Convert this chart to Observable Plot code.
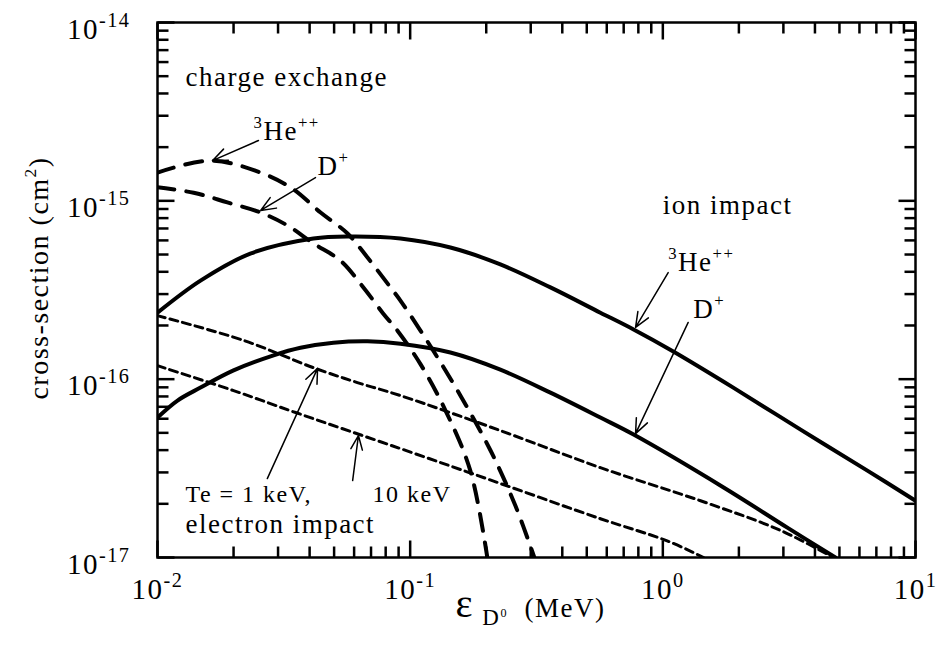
<!DOCTYPE html>
<html>
<head>
<meta charset="utf-8">
<script src="https://cdn.jsdelivr.net/npm/d3@7"></script>
<script src="https://cdn.jsdelivr.net/npm/@observablehq/plot@0.6"></script>
<style>
  html, body { margin: 0; padding: 0; background: #fff; }
  #chart svg { display: block; }
</style>
</head>
<body>
<div id="chart"></div>
<script>
// Neutral deuterium energy (MeV) and cross-sections (cm^2)

// charge exchange with 3He++
const cxHeEnergy = [0.01, 0.0162, 0.0256, 0.0342, 0.0442, 0.0565, 0.0678, 0.0836, 0.0915, 0.120, 0.158, 0.208, 0.261, 0.310];
const cxHeSigma  = [1.44e-15, 1.68e-15, 1.44e-15, 1.17e-15, 8.6e-16, 6.56e-16, 4.81e-16, 3.27e-16, 2.76e-16, 1.54e-16, 8.1e-17, 3.98e-17, 1.95e-17, 1.0e-17];

// charge exchange with D+
const cxDEnergy = [0.01, 0.0139, 0.0189, 0.0256, 0.0327, 0.0414, 0.053, 0.0653, 0.0783, 0.0891, 0.110, 0.138, 0.173, 0.202];
const cxDSigma  = [1.19e-15, 1.11e-15, 9.8e-16, 8.6e-16, 7.27e-16, 5.77e-16, 4.62e-16, 3.27e-16, 2.33e-16, 1.87e-16, 1.21e-16, 6.67e-17, 3.07e-17, 1.0e-17];

// ion impact ionization by 3He++
const ionHeEnergy = [0.01, 0.0148, 0.0233, 0.0414, 0.0581, 0.0915, 0.1443, 0.2275, 0.359, 0.566, 0.766, 1.10, 1.90, 3.51, 6.45, 10];
const ionHeSigma  = [2.36e-16, 3.57e-16, 5.06e-16, 6.15e-16, 6.31e-16, 6.15e-16, 5.47e-16, 4.40e-16, 3.27e-16, 2.36e-16, 1.90e-16, 1.43e-16, 8.97e-17, 5.21e-17, 3.07e-17, 2.08e-17];

// ion impact ionization by D+
const ionDEnergy = [0.01, 0.012, 0.0148, 0.0200, 0.0288, 0.0368, 0.0497, 0.0678, 0.0915, 0.1443, 0.2275, 0.359, 0.566, 0.766, 1.74, 3.11, 4.82];
const ionDSigma  = [6.09e-17, 7.59e-17, 8.97e-17, 1.12e-16, 1.36e-16, 1.50e-16, 1.60e-16, 1.63e-16, 1.58e-16, 1.41e-16, 1.13e-16, 8.4e-17, 6.09e-17, 4.89e-17, 2.47e-17, 1.47e-17, 1.0e-17];

// electron impact ionization, Te = 1 keV
const e1Energy = [0.01, 0.0219, 0.0414, 0.0618, 0.0915, 0.2275, 0.566, 1.41, 2.92, 4.73];
const e1Sigma  = [2.27e-16, 1.65e-16, 1.16e-16, 9.57e-17, 8.09e-17, 5.15e-17, 3.19e-17, 2.08e-17, 1.42e-17, 1.0e-17];

// electron impact ionization, Te = 10 keV
const e10Energy = [0.01, 0.0200, 0.0352, 0.0915, 0.2275, 0.566, 1.04, 1.45];
const e10Sigma  = [1.19e-16, 8.63e-17, 6.50e-17, 4.08e-17, 2.60e-17, 1.65e-17, 1.24e-17, 1.0e-17];

// axis ticks
const majorX = [0.01, 0.1, 1, 10];
const majorY = [1e-17, 1e-16, 1e-15, 1e-14];
const minorX = [0.02, 0.03, 0.04, 0.05, 0.06, 0.07, 0.08, 0.09,
                0.2, 0.3, 0.4, 0.5, 0.6, 0.7, 0.8, 0.9,
                2, 3, 4, 5, 6, 7, 8, 9];
const minorY = [2e-17, 3e-17, 4e-17, 5e-17, 6e-17, 7e-17, 8e-17, 9e-17,
                2e-16, 3e-16, 4e-16, 5e-16, 6e-16, 7e-16, 8e-16, 9e-16,
                2e-15, 3e-15, 4e-15, 5e-15, 6e-15, 7e-15, 8e-15, 9e-15];

// text labels; [text|scale|shift] marks a super/subscript run
const noteLabels = ["charge exchange", "[3|0.62|0.45]He[++|0.62|0.45]", "D[+|0.62|0.45]", "ion impact",
                    "[3|0.62|0.45]He[++|0.62|0.45]", "D[+|0.62|0.45]", "electron impact"];
const noteEnergy = [0.0129, 0.0240, 0.0430, 1.0, 1.05, 1.32, 0.0129];
const noteSigma  = [4.43e-15, 2.18e-15, 1.39e-15, 8.49e-16, 4.06e-16, 2.19e-16, 1.38e-17];

const teLabels = ["Te = 1 keV,", "10 keV"];
const teEnergy = [0.0129, 0.0710];
const teSigma  = [2.06e-17, 2.06e-17];

// pointer arrows: tail (E1, s1) -> head (E2, s2)
const arrowE1 = [0.0251, 0.0422, 1.05, 1.26, 0.0272, 0.0592];
const arrowS1 = [2.18e-15, 1.35e-15, 3.96e-16, 2.08e-16, 2.77e-17, 2.70e-17];
const arrowE2 = [0.0165, 0.0256, 0.780, 0.780, 0.0430, 0.0624];
const arrowS2 = [1.68e-15, 8.83e-16, 1.95e-16, 4.95e-17, 1.15e-16, 4.83e-17];

const xTitle = "[ε|1.5|0] [D|0.85|-0.33][0|0.45|0]\u00a0 (MeV)";
const yTitle = "cross-section (cm[2|0.62|0.45])";

const series = (E, S) => E.map((e, i) => ({E: e, s: S[i]}));
const notes = noteLabels.map((t, i) => ({t, E: noteEnergy[i], s: noteSigma[i]}));
const teNotes = teLabels.map((t, i) => ({t, E: teEnergy[i], s: teSigma[i]}));
const arrows = arrowE1.map((e, i) => ({E1: e, s1: arrowS1[i], E2: arrowE2[i], s2: arrowS2[i]}));

const expFmt = d => `10[${Math.round(Math.log10(d))}|0.7|0.42]`;

const W = 939, H = 651;
const M = {left: 157, right: 24, top: 22, bottom: 94};
const xDomain = [0.01, 10], yDomain = [1e-17, 1e-14];
// pixels per decade on each log axis
const xDecade = (W - M.left - M.right) / Math.log10(xDomain[1] / xDomain[0]);
const yDecade = (H - M.top - M.bottom) / Math.log10(yDomain[1] / yDomain[0]);

const solid = {x: "E", y: "s", stroke: "black", strokeWidth: 4, curve: "catmull-rom", clip: true};
const longDash = {...solid, strokeDasharray: "17,12"};
const shortDash = {...solid, strokeWidth: 3, strokeDasharray: "8,5"};

// inward ticks as short links; a tick of len px spans len/decade of a decade
const tickStyle = {stroke: "black", strokeWidth: 2.5};
const xTicks = (v, len) => {
  const f = Math.pow(10, len / yDecade);
  return [
    Plot.link(v, {x1: d => d, x2: d => d, y1: () => yDomain[0], y2: () => yDomain[0] * f, ...tickStyle}),
    Plot.link(v, {x1: d => d, x2: d => d, y1: () => yDomain[1], y2: () => yDomain[1] / f, ...tickStyle})
  ];
};
const yTicks = (v, len) => {
  const f = Math.pow(10, len / xDecade);
  return [
    Plot.link(v, {y1: d => d, y2: d => d, x1: () => xDomain[0], x2: () => xDomain[0] * f, ...tickStyle}),
    Plot.link(v, {y1: d => d, y2: d => d, x1: () => xDomain[1], x2: () => xDomain[1] / f, ...tickStyle})
  ];
};

const chart = Plot.plot({
  width: W,
  height: H,
  marginLeft: M.left,
  marginRight: M.right,
  marginTop: M.top,
  marginBottom: M.bottom,
  style: {fontFamily: "'Liberation Serif', 'Times New Roman', serif", background: "#fff", color: "#000", letterSpacing: "1.5px"},
  x: {type: "log", domain: xDomain, label: null},
  y: {type: "log", domain: yDomain, label: null},
  marks: [
    Plot.frame({stroke: "black", strokeWidth: 2.5}),
    ...xTicks(majorX, 17), ...xTicks(minorX, 11),
    ...yTicks(majorY, 17), ...yTicks(minorY, 11),
    // decade labels
    Plot.axisX({anchor: "bottom", ticks: majorX, tickSize: 0, tickPadding: 21, tickFormat: expFmt, fontSize: 29, label: null}),
    Plot.axisY({anchor: "left", ticks: majorY, tickSize: 0, tickPadding: 27, tickFormat: expFmt, fontSize: 29, dy: 7, label: null}),

    // curves
    Plot.line(series(cxHeEnergy, cxHeSigma), longDash),
    Plot.line(series(cxDEnergy, cxDSigma), longDash),
    Plot.line(series(ionHeEnergy, ionHeSigma), solid),
    Plot.line(series(ionDEnergy, ionDSigma), solid),
    Plot.line(series(e1Energy, e1Sigma), shortDash),
    Plot.line(series(e10Energy, e10Sigma), shortDash),

    // annotations
    Plot.arrow(arrows, {x1: "E1", y1: "s1", x2: "E2", y2: "s2", stroke: "black", strokeWidth: 1.5, headLength: 16, headAngle: 45}),
    Plot.text(notes, {x: "E", y: "s", text: "t", textAnchor: "start", lineAnchor: "bottom", fontSize: 27}),
    Plot.text(teNotes, {x: "E", y: "s", text: "t", textAnchor: "start", lineAnchor: "bottom", fontSize: 24}),

    // axis titles
    Plot.text([xTitle], {frameAnchor: "bottom", text: d => d, textAnchor: "middle", lineAnchor: "bottom", dx: -6, dy: 59, fontSize: 27}),
    Plot.text([yTitle], {frameAnchor: "left", text: d => d, textAnchor: "middle", lineAnchor: "middle", dx: -118, dy: -12, rotate: -90, fontSize: 28})
  ]
});

document.getElementById("chart").appendChild(chart);

// turn [text|scale|shift] runs into raised or lowered tspans
(function richText(svg) {
  const re = /\[([^|\]]*)\|([\d.]+)\|(-?[\d.]+)\]/g;
  svg.querySelectorAll("text").forEach(t => {
    const s = t.textContent;
    re.lastIndex = 0;
    if (!re.test(s)) return;
    re.lastIndex = 0;
    const base = parseFloat(getComputedStyle(t).fontSize);
    t.textContent = "";
    let last = 0, shift = 0, m;
    const add = (str, scale, sh) => {
      if (!str) return;
      const ts = document.createElementNS("http://www.w3.org/2000/svg", "tspan");
      ts.textContent = str;
      if (scale !== 1) ts.setAttribute("font-size", base * scale);
      const d = -(sh - shift) * base;
      if (d) ts.setAttribute("dy", d);
      shift = sh;
      t.appendChild(ts);
    };
    while ((m = re.exec(s))) {
      add(s.slice(last, m.index), 1, 0);
      add(m[1], +m[2], +m[3]);
      last = re.lastIndex;
    }
    add(s.slice(last), 1, 0);
  });
})(chart);
</script>
</body>
</html>
